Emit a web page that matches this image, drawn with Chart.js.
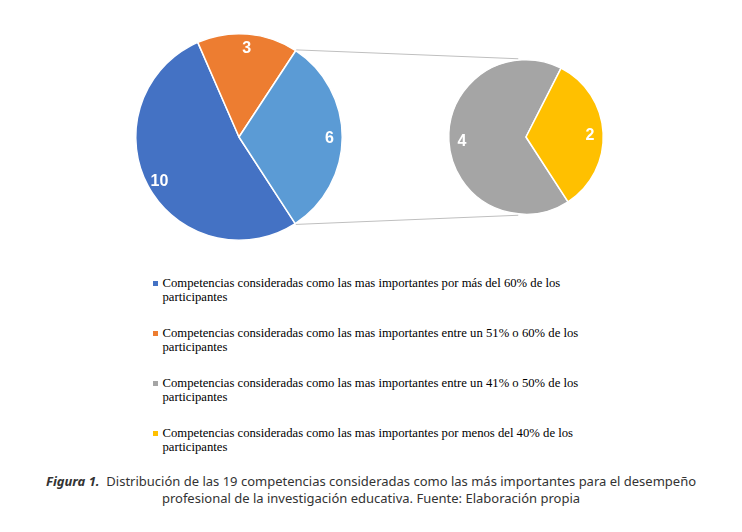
<!DOCTYPE html>
<html><head><meta charset="utf-8">
<script src="https://cdn.jsdelivr.net/npm/chart.js@4/dist/chart.umd.min.js"></script>
<style>
html,body{margin:0;padding:0;background:#fff;}
#wrap{position:relative;width:742px;height:532px;overflow:hidden;background:#fff;}
#wrap canvas{position:absolute;left:0;top:0;}
#legend{position:absolute;left:152px;top:276px;font-family:"Liberation Serif","Times New Roman",serif;font-size:12.7px;line-height:14px;color:#000;}
.item{position:relative;padding-left:10.5px;width:432px;margin-bottom:22px;}
.sw{position:absolute;left:1px;top:5px;width:5px;height:5px;}
#caption{position:absolute;left:0;width:742px;top:473px;text-align:center;font-family:"Noto Sans",sans-serif;font-size:13px;line-height:17px;color:#333;}
#caption b{font-style:italic;}
</style></head>
<body>
<div id="wrap">
  <canvas id="left" width="742" height="250"></canvas>
  <canvas id="right" width="742" height="250"></canvas>
  <div id="legend"></div>
  <div id="caption"><b>Figura 1.</b>&nbsp; Distribución de las 19 competencias consideradas como las más importantes para el desempeño<br>profesional de la investigación educativa. Fuente: Elaboración propia</div>
</div>
<script>
// ---- data ----
const categories = [
  "Competencias consideradas como las mas importantes por más del 60% de los participantes",
  "Competencias consideradas como las mas importantes entre un 51% o 60% de los participantes",
  "Competencias consideradas como las mas importantes entre un 41% o 50% de los participantes",
  "Competencias consideradas como las mas importantes por menos del 40% de los participantes"
];
const values = [10, 3, 4, 2];
const secondPieCount = 2;          // last categories shown in the second pie
const otherLabel = "Otros";

// ---- style ----
const colors = ["#4472C4", "#ED7D31", "#A5A5A5", "#FFC000"];
const otherColor = "#5B9BD5";

const n = values.length;
const firstCats = categories.slice(0, n - secondPieCount);
const secondCats = categories.slice(n - secondPieCount);
const firstVals = values.slice(0, n - secondPieCount);
const secondVals = values.slice(n - secondPieCount);
const otherSum = secondVals.reduce((a, b) => a + b, 0);
const leftLabels = firstCats.concat([otherLabel]);
const leftVals = firstVals.concat([otherSum]);
const leftColors = colors.slice(0, n - secondPieCount).concat([otherColor]);
const otherIdx = leftVals.length - 1;

const sliceLabels = {
  id: 'sliceLabels',
  afterDatasetsDraw(chart, args, opts) {
    const meta = chart.getDatasetMeta(0);
    const ds = chart.data.datasets[0];
    const ctx = chart.ctx;
    ctx.save();
    ctx.font = 'bold 16px "Liberation Sans", Arial, sans-serif';
    ctx.fillStyle = '#fff';
    ctx.textAlign = 'center';
    ctx.textBaseline = 'middle';
    meta.data.forEach((arc, i) => {
      const p = arc.getProps(['x', 'y', 'startAngle', 'endAngle', 'outerRadius'], true);
      const mid = (p.startAngle + p.endAngle) / 2;
      const r = p.outerRadius * opts.frac;
      ctx.fillText(String(ds.data[i]), p.x + Math.cos(mid) * r, p.y + Math.sin(mid) * r + 1.5);
    });
    ctx.restore();
  }
};

Chart.defaults.animation = false;

const leftChart = new Chart(document.getElementById('left'), {
  type: 'pie',
  data: { labels: leftLabels, datasets: [{ data: leftVals, backgroundColor: leftColors, borderColor: '#fff', borderWidth: 1.5 }] },
  options: {
    responsive: false, events: [], rotation: 147,
    layout: { padding: { left: 135, right: 399, top: 33, bottom: 9 } },
    plugins: { legend: { display: false }, tooltip: { enabled: false }, sliceLabels: { frac: 0.875 } }
  },
  plugins: [sliceLabels]
});

const connector = {
  id: 'connector',
  afterDraw(chart) {
    const la = leftChart.getDatasetMeta(0).data[otherIdx].getProps(['x', 'y', 'startAngle', 'endAngle', 'outerRadius'], true);
    const ra = chart.getDatasetMeta(0).data[0].getProps(['x', 'y', 'outerRadius'], true);
    const ctx = chart.ctx;
    const R = la.outerRadius + 1;
    const p1 = [la.x + Math.cos(la.startAngle) * R, la.y + Math.sin(la.startAngle) * R];
    const p2 = [la.x + Math.cos(la.endAngle) * R, la.y + Math.sin(la.endAngle) * R];
    const q1 = [ra.x - ra.outerRadius * 0.1, ra.y - ra.outerRadius - 1];
    const q2 = [ra.x - ra.outerRadius * 0.1, ra.y + ra.outerRadius + 1];
    ctx.save();
    ctx.strokeStyle = '#BFBFBF';
    ctx.lineWidth = 1;
    ctx.beginPath();
    ctx.moveTo(p1[0], p1[1]); ctx.lineTo(q1[0], q1[1]);
    ctx.moveTo(p2[0], p2[1]); ctx.lineTo(q2[0], q2[1]);
    ctx.stroke();
    ctx.restore();
  }
};

const rightChart = new Chart(document.getElementById('right'), {
  type: 'pie',
  data: { labels: secondCats, datasets: [{ data: secondVals, backgroundColor: colors.slice(n - secondPieCount), borderColor: '#fff', borderWidth: 1.5 }] },
  options: {
    responsive: false, events: [], rotation: 147,
    layout: { padding: { left: 448, right: 138, top: 59, bottom: 35 } },
    plugins: { legend: { display: false }, tooltip: { enabled: false }, sliceLabels: { frac: 0.83 } }
  },
  plugins: [sliceLabels, connector]
});

// ---- HTML legend built from the categories ----
const legend = document.getElementById('legend');
categories.forEach((c, i) => {
  const d = document.createElement('div');
  d.className = 'item';
  const s = document.createElement('span');
  s.className = 'sw';
  s.style.background = colors[i];
  d.appendChild(s);
  d.appendChild(document.createTextNode(c));
  legend.appendChild(d);
});
</script>
</body></html>
